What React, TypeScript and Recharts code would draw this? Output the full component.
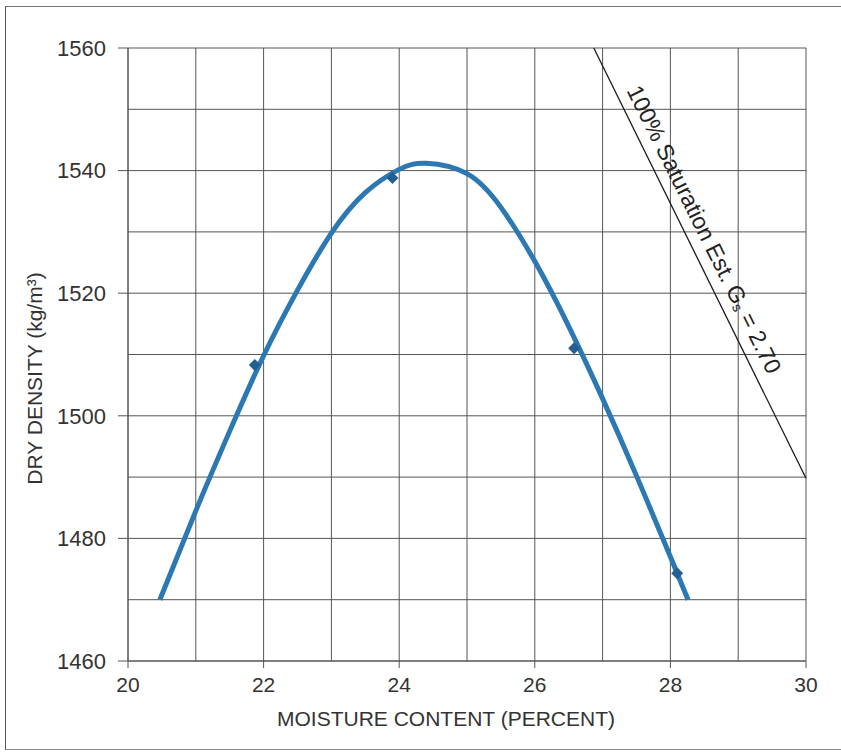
import { CartesianGrid, ComposedChart, Line, ReferenceDot, Scatter, XAxis, YAxis } from "recharts";

// fitted compaction curve
const curveX = [20.47, 21.0, 21.5, 22.0, 22.5, 23.0, 23.5, 24.0, 24.4, 25.0, 25.5, 26.0, 26.5, 27.0, 27.5, 28.0, 28.26];
const curveY = [1470, 1484.5, 1497.5, 1509.8, 1520.5, 1529.8, 1536.4, 1540.2, 1541.2, 1539.5, 1534.0, 1525.2, 1514.6, 1502.8, 1490.2, 1477.0, 1470];

// test points
const testX = [21.87, 23.9, 26.58, 28.1];
const testY = [1508.3, 1538.8, 1511, 1474.3];

// 100% saturation line
const satX = [26.87, 30];
const satY = [1560, 1489.8];
const satLabelAt = { x: 28.5, y: 1530.4 };

const xGrid = [20, 21, 22, 23, 24, 25, 26, 27, 28, 29, 30];
const xLabels = [20, 22, 24, 26, 28, 30];
const yGrid = [1460, 1470, 1480, 1490, 1500, 1510, 1520, 1530, 1540, 1550, 1560];
const yLabels = [1460, 1480, 1500, 1520, 1540, 1560];

const curve = curveX.map((x, i) => ({ x, y: curveY[i] }));
const tests = testX.map((x, i) => ({ x, y: testY[i] }));
const sat = satX.map((x, i) => ({ x, y: satY[i] }));

const font = "'Liberation Sans', Arial, sans-serif";
const ink = "#333";
const gridColor = "#555";

function XTick({ x, y, payload }: any) {
  if (!xLabels.includes(payload.value)) return <g />;
  return (
    <g>
      <line x1={x} x2={x} y1={y} y2={y + 7} stroke={gridColor} />
      <text x={x} y={y + 16} dy="0.71em" textAnchor="middle" fontSize={21} fill={ink} fontFamily={font}>
        {payload.value}
      </text>
    </g>
  );
}

function YTick({ x, y, payload }: any) {
  if (!yLabels.includes(payload.value)) return <g />;
  return (
    <g>
      <line x1={x - 10} x2={x} y1={y} y2={y} stroke={gridColor} />
      <text x={x - 22} y={y} dy="0.355em" textAnchor="end" fontSize={22} fill={ink} fontFamily={font}>
        {payload.value}
      </text>
    </g>
  );
}

function XTitle({ viewBox }: any) {
  const { x, y, width } = viewBox;
  return (
    <text x={x + width / 2 - 21} y={y + 50} dy="0.71em" textAnchor="middle" fontSize={21} fill={ink} fontFamily={font}>
      MOISTURE CONTENT (PERCENT)
    </text>
  );
}

function YTitle({ viewBox }: any) {
  const { x, y, height } = viewBox;
  const cx = x + 34;
  const cy = y + height / 2 + 24;
  return (
    <text
      x={cx}
      y={cy}
      textAnchor="middle"
      dominantBaseline="central"
      transform={`rotate(-90 ${cx} ${cy})`}
      fontSize={21}
      fill={ink}
      fontFamily={font}
    >
      DRY DENSITY (kg/m³)
    </text>
  );
}

function SatLabel({ viewBox }: any) {
  const cx = viewBox.x + (viewBox.width || 0) / 2;
  const cy = viewBox.y + (viewBox.height || 0) / 2;
  return (
    <text
      x={cx}
      y={cy}
      textAnchor="middle"
      dominantBaseline="central"
      transform={`rotate(63.6 ${cx} ${cy})`}
      fontSize={23}
      fill="#222"
      fontFamily={font}
    >
      100% Saturation Est. G
      <tspan fontSize={14} dy={5}>s</tspan>
      <tspan dy={-5}> = 2.70</tspan>
    </text>
  );
}

function Diamond({ cx, cy }: any) {
  const r = 6;
  return <polygon points={`${cx},${cy - r} ${cx + r},${cy} ${cx},${cy + r} ${cx - r},${cy}`} fill="#225f92" />;
}

export default function App() {
  return (
    <div style={{ position: "absolute", left: 0, top: 0, width: 841, height: 753, background: "#fff" }}>
      <div
        style={{
          position: "absolute",
          left: 5,
          top: 6,
          width: 840,
          height: 744,
          borderLeft: "1px solid #555",
          borderTop: "1px solid #777",
          borderBottom: "1px solid #888",
          boxSizing: "border-box",
        }}
      />
      <ComposedChart width={841} height={753} margin={{ top: 48, right: 35, bottom: 0, left: 0 }}>
        <CartesianGrid stroke={gridColor} strokeWidth={1} />
        <XAxis
          dataKey="x"
          type="number"
          domain={[20, 30]}
          ticks={xGrid}
          interval={0}
          height={92}
          tickSize={0}
          tickMargin={0}
          tick={<XTick />}
          axisLine={{ stroke: gridColor }}
          label={<XTitle />}
        />
        <YAxis
          dataKey="y"
          type="number"
          domain={[1460, 1560]}
          ticks={yGrid}
          interval={0}
          width={128}
          tickSize={0}
          tickMargin={0}
          tick={<YTick />}
          axisLine={{ stroke: gridColor }}
          label={<YTitle />}
        />
        <Line data={sat} dataKey="y" type="linear" stroke="#1a1a1a" strokeWidth={1.3} dot={false} isAnimationActive={false} />
        <Line data={curve} dataKey="y" type="natural" stroke="#2b78b2" strokeWidth={5} dot={false} isAnimationActive={false} />
        <Scatter data={tests} dataKey="y" shape={<Diamond />} isAnimationActive={false} />
        <ReferenceDot x={satLabelAt.x} y={satLabelAt.y} r={0} fill="none" stroke="none" label={<SatLabel />} />
      </ComposedChart>
    </div>
  );
}
